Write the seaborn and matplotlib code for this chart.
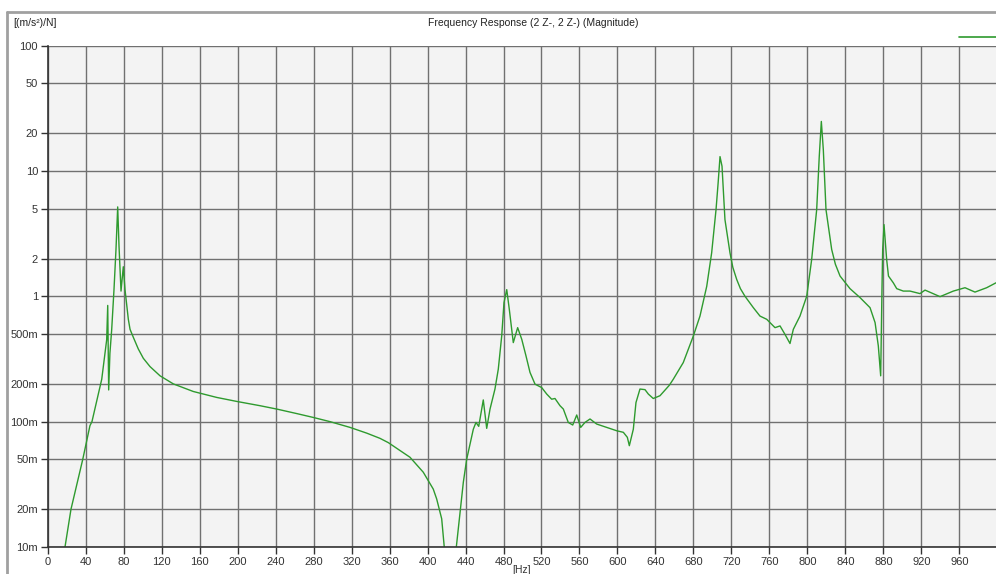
import numpy as np
import pandas as pd
import matplotlib
matplotlib.use("Agg")
import matplotlib.pyplot as plt
from matplotlib.lines import Line2D
from matplotlib.ticker import FixedLocator, FixedFormatter
import seaborn as sns

# frequency response (Hz, (m/s^2)/N)
FREQ = [15, 18.2, 24.5, 36.9, 44.5, 46.6, 56.9, 62.1, 63.2, 64.2, 65.5, 67.4, 69.8, 71.9,
        73.7, 75.1, 77.2, 79.6, 81.4, 84.9, 86.7, 90.2, 95.4, 100.7, 107.7, 118.3, 132.3,
        153.3, 178, 199, 223.6, 241.2, 262.2, 279.7, 297.3, 318.3, 335.9, 349.9, 358.7,
        381.5, 395.5, 406, 409.6, 414.9, 417.6, 420, 428, 430.3, 437.7, 441.2, 448.2, 451,
        453.9, 458.7, 462.3, 465.8, 471, 474.5, 478.1, 480.5, 483.4, 486.1, 490.3, 494.9,
        499.2, 503.7, 507.9, 513.2, 520.2, 525.5, 530.7, 534.2, 539.5, 543, 548.2, 552.9,
        557.1, 561.3, 565.8, 571.1, 578.1, 588.7, 599.2, 606.2, 610.4, 612.5, 616.7, 619.5,
        623.7, 629, 632.5, 637.7, 644.8, 654.6, 658.8, 669.3, 679.9, 686.9, 694, 699.2,
        703.8, 706, 708, 710.1, 713.2, 718.5, 721.5, 725.6, 729.5, 734.3, 743.1, 750.1,
        757.2, 765.9, 771.2, 776.4, 781.7, 785.2, 792.2, 799.3, 804.5, 809.8, 812.5, 814.7,
        816.8, 819.6, 825.6, 829.5, 834.4, 844.9, 855.5, 866, 871.3, 874.7, 877.2, 878.6,
        879.3, 880.7, 883.5, 885.4, 890.5, 894.1, 901, 908.1, 918.6, 923.9, 939.7, 953.7,
        966, 976.5, 988.8, 998.6]
MAG = [0.0065, 0.01, 0.02, 0.05, 0.093, 0.1, 0.218, 0.45, 0.845, 0.179, 0.35, 0.545, 1.13, 2.36,
       5.16, 2.5, 1.1, 1.72, 1.13, 0.655, 0.545, 0.47, 0.38, 0.32, 0.275, 0.232, 0.2,
       0.174, 0.156, 0.145, 0.134, 0.126, 0.116, 0.108, 0.1, 0.09, 0.081, 0.0736, 0.068,
       0.052, 0.0395, 0.029, 0.0242, 0.0168, 0.01, 0.005, 0.005, 0.01, 0.0329, 0.05, 0.087, 0.0986,
       0.0917, 0.149, 0.0884, 0.126, 0.182, 0.262, 0.482, 0.889, 1.13, 0.787, 0.427, 0.562,
       0.454, 0.334, 0.247, 0.199, 0.187, 0.166, 0.151, 0.153, 0.134, 0.126, 0.0986, 0.094,
       0.113, 0.09, 0.0986, 0.105, 0.0957, 0.09, 0.0846, 0.0822, 0.075, 0.0643, 0.087, 0.142,
       0.182, 0.18, 0.166, 0.153, 0.161, 0.195, 0.218, 0.296, 0.482, 0.695, 1.2, 2.22,
       4.91, 8.0, 13.0, 10.9, 4.09, 2.22, 1.7, 1.36, 1.15, 1.0, 0.811, 0.695,
       0.655, 0.562, 0.58, 0.497, 0.42, 0.545, 0.695, 1.0, 1.96, 4.91, 13.0, 24.8,
       14.7, 4.91, 2.36, 1.8, 1.45, 1.15, 0.975, 0.811, 0.616, 0.402, 0.232, 1.2,
       2.36, 3.73, 1.96, 1.45, 1.28, 1.15, 1.1, 1.1, 1.05, 1.12, 0.993, 1.1,
       1.17, 1.08, 1.17, 1.28]

X_TICKS = list(range(0, 1000, 40))
Y_TICKS = [0.01, 0.02, 0.05, 0.1, 0.2, 0.5, 1, 2, 5, 10, 20, 50, 100]
Y_LABELS = ["10m", "20m", "50m", "100m", "200m", "500m", "1", "2", "5", "10", "20", "50", "100"]

TITLE = "Frequency Response (2 Z-, 2 Z-) (Magnitude)"
UNITS = "[(m/s²)/N]"
LINE_COLOR = "#2e9a2e"
GRID_COLOR = "#707070"

sns.set_theme(style="ticks")
plt.rcParams["font.family"] = ["Liberation Sans Narrow", "Liberation Sans", "DejaVu Sans"]

df = pd.DataFrame({"freq": FREQ, "mag": MAG})

fig = plt.figure(figsize=(9.96, 5.74), dpi=100)
fig.patch.set_facecolor("white")
ax = fig.add_axes([0.0479, 0.047, 0.9534, 0.8737])
ax.set_facecolor("#f3f3f3")

sns.lineplot(data=df, x="freq", y="mag", ax=ax, color=LINE_COLOR, lw=1.0,
             sort=False, estimator=None)

ax.set_yscale("log")
ax.set_xlim(0, 1000)
ax.set_ylim(0.01, 100)
ax.xaxis.set_major_locator(FixedLocator(X_TICKS))
ax.yaxis.set_major_locator(FixedLocator(Y_TICKS))
ax.yaxis.set_major_formatter(FixedFormatter(Y_LABELS))
ax.yaxis.set_minor_locator(FixedLocator([]))
ax.grid(True, which="major", color=GRID_COLOR, lw=1.0)
ax.set_axisbelow(True)
ax.tick_params(axis="both", direction="out", length=5, width=1, color="#333333",
               labelsize=8, labelcolor="#333333", pad=2)
for side in ("top", "right"):
    ax.spines[side].set_visible(False)
for side in ("left", "bottom"):
    ax.spines[side].set_color("#333333")
    ax.spines[side].set_linewidth(1.2)
ax.set_xlabel("")
ax.set_ylabel("")

# window frame, title, units and legend line
fig.add_artist(Line2D([7 / 996, 7 / 996], [0, 1 - 12 / 574], color="#a0a0a0", lw=2))
fig.add_artist(Line2D([7 / 996, 1], [1 - 12 / 574, 1 - 12 / 574], color="#a0a0a0", lw=2))
fig.text(533 / 996, 1 - 23 / 574, TITLE, ha="center", va="center", fontsize=7.5, color="#222222")
fig.text(13 / 996, 1 - 23 / 574, UNITS, ha="left", va="center", fontsize=7.5, color="#222222")
fig.text(522 / 996, 1 - 570 / 574, "[Hz]", ha="center", va="center", fontsize=7.5, color="#333333")
fig.add_artist(Line2D([959 / 996, 1], [1 - 37 / 574, 1 - 37 / 574], color=LINE_COLOR, lw=1.2))

fig.savefig("out.png", dpi=100)
